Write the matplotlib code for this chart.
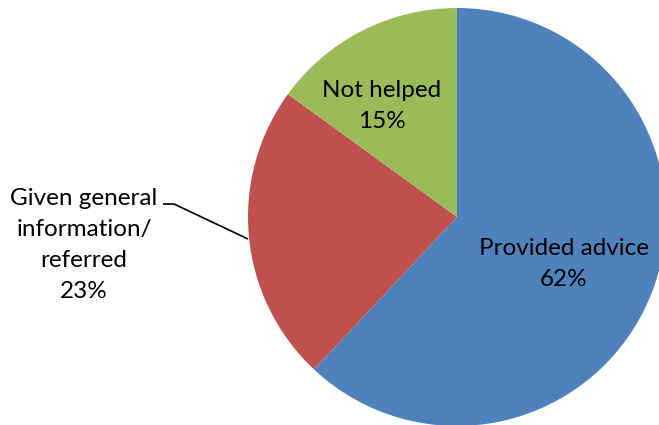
import matplotlib
matplotlib.use("Agg")
import matplotlib.pyplot as plt

categories = ["Provided advice", "Given general\ninformation/\nreferred", "Not helped"]
shares = [62, 23, 15]
colors = ["#4F81BD", "#C0504D", "#9BBB59"]

W, H = 659, 425
fig = plt.figure(figsize=(W / 100, H / 100), dpi=100)
ax = fig.add_axes([0, 0, 1, 1])


def py(y):
    """Convert a top-down pixel row to a data y coordinate."""
    return H - y


cx, cy, r = 457, 217, 209
ax.pie(shares, colors=colors, startangle=90, counterclock=False,
       center=(cx, py(cy)), radius=r, frame=True,
       wedgeprops=dict(linewidth=0))
ax.set_xlim(0, W)
ax.set_ylim(0, H)
ax.set_aspect("equal")
ax.axis("off")

font = dict(family="Lato", fontsize=17.5, color="black", ha="center", va="center",
            linespacing=1.6)
ax.text(564, py(264), f"{categories[0]}\n{shares[0]}%", **font)
ax.text(382, py(106), f"{categories[2]}\n{shares[2]}%", **font)
ax.text(84, py(245), f"{categories[1]}\n{shares[1]}%", **font)

# leader line for the outside label
ax.plot([163, 174, 248], [py(204), py(204), py(239)], color="black", lw=1.2,
        solid_capstyle="butt")

fig.savefig("out.png", dpi=100)
